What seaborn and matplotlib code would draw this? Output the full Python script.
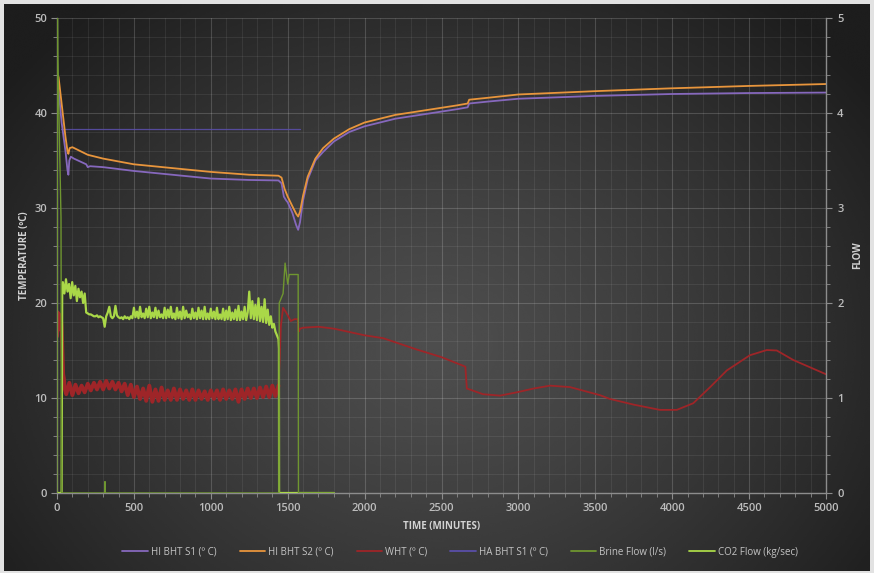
import numpy as np
import matplotlib
matplotlib.use("Agg")
import matplotlib.pyplot as plt
from matplotlib.lines import Line2D
from matplotlib.ticker import MultipleLocator
import seaborn as sns

sns.set_theme(style="dark")
plt.rcParams["font.family"] = ["Open Sans", "DejaVu Sans"]

# ---------------- data ----------------
# HI BHT S1 (ºC)
bht1_t = [0, 10, 30, 55, 68, 74, 80, 90, 110, 150, 190, 200, 215, 300, 500, 750, 1000,
          1250, 1440, 1460, 1475, 1490, 1500, 1530, 1555, 1568, 1580, 1600, 1630, 1680,
          1730, 1800, 1900, 2000, 2200, 2400, 2600, 2670, 2680, 2800, 3000, 3500, 4000,
          4500, 5000]
bht1_v = [43.5, 42.5, 39.0, 36.0, 34.0, 33.5, 35.0, 35.4, 35.2, 34.9, 34.6, 34.3, 34.4,
          34.3, 33.9, 33.5, 33.1, 32.95, 32.9, 32.6, 31.2, 30.8, 30.6, 29.5, 28.2, 27.7,
          28.5, 30.8, 33.0, 35.0, 35.9, 37.0, 38.0, 38.6, 39.4, 39.9, 40.4, 40.6, 41.0,
          41.2, 41.5, 41.8, 42.0, 42.1, 42.15]

# HI BHT S2 (ºC)
bht2_t = [0, 10, 30, 55, 68, 74, 82, 100, 150, 200, 300, 500, 750, 1000, 1250, 1440,
          1460, 1480, 1500, 1530, 1555, 1568, 1580, 1600, 1630, 1680, 1730, 1800, 1900,
          2000, 2200, 2400, 2600, 2670, 2680, 2800, 3000, 3500, 4000, 4500, 5000]
bht2_v = [44.0, 43.8, 41.0, 37.5, 36.0, 35.7, 36.3, 36.4, 36.0, 35.6, 35.2, 34.6, 34.2,
          33.8, 33.5, 33.4, 33.2, 32.0, 31.2, 30.2, 29.4, 29.1, 29.6, 31.3, 33.3, 35.2,
          36.3, 37.3, 38.3, 39.0, 39.8, 40.3, 40.8, 41.0, 41.4, 41.6, 41.95, 42.3, 42.6,
          42.85, 43.05]

# HA BHT S1 (ºC)
habht_t = [25, 1580]
habht_v = [38.3, 38.3]

# WHT (ºC): start-up, noisy injection period, recovery
wht_head_t = [0, 5, 10, 15, 20, 25, 30, 35, 40, 45, 50]
wht_head_v = [16.5, 19.0, 17.2, 18.8, 17.8, 18.5, 17.5, 15.0, 12.5, 12.0, 11.0]
wht_mid_v = [10.4, 11.6, 10.3, 11.4, 10.5, 11.3, 10.6, 11.5, 10.8, 11.6,
             10.9, 11.7, 10.9, 11.8, 11.0, 11.7, 10.9, 11.6, 10.7, 11.5,
             10.3, 11.4, 10.1, 11.2, 9.9, 11.0, 9.7, 11.3, 9.6, 10.9,
             9.7, 11.1, 9.8, 10.8, 9.8, 11.0, 9.8, 10.9, 9.9, 10.8,
             9.8, 10.9, 9.8, 10.8, 9.9, 10.7, 9.8, 10.8, 9.9, 10.8,
             9.8, 10.9, 9.9, 10.8, 9.9, 10.9, 9.6, 10.9, 9.9, 11.0,
             10.0, 11.0, 10.0, 11.1, 10.1, 11.2, 10.1, 11.3, 10.2, 11.3]
wht_tail_t = [1448, 1455, 1470, 1490, 1520, 1545, 1565, 1572, 1580, 1600, 1700, 1800,
              2000, 2120, 2340, 2500, 2655, 2665, 2770, 2880, 2990, 3100, 3205, 3335,
              3530, 3595, 3750, 3920, 4030, 4137, 4250, 4355, 4505, 4615, 4680, 4787,
              5000]
wht_tail_v = [14.0, 17.5, 19.5, 19.0, 18.1, 18.3, 18.3, 17.0, 17.3, 17.4, 17.5, 17.3,
              16.6, 16.3, 15.1, 14.3, 13.3, 11.0, 10.4, 10.25, 10.6, 11.0, 11.3, 11.15,
              10.3, 9.9, 9.3, 8.75, 8.75, 9.45, 11.2, 12.9, 14.5, 15.05, 15.0, 14.0, 12.5]

# Brine Flow (l/s)
brine_t = [0, 3, 5, 26, 30, 32, 310, 312, 314, 1443, 1445, 1470, 1483, 1500, 1510,
           1568, 1570, 1800]
brine_v = [0.0, 5.0, 4.6, 2.9, 0.0, 0.0, 0.0, 0.12, 0.0, 0.0, 2.0, 2.1, 2.42, 2.2,
           2.3, 2.3, 0.0, 0.0]

# CO2 Flow (kg/sec)
co2_head_t = [0, 30, 34]
co2_head_v = [0.0, 0.0, 2.2]
co2_seg1_v = [2.22, 2.10, 2.25, 2.12, 2.20, 2.05, 2.22, 2.08, 2.18, 2.02, 2.15, 2.06,
              2.12, 2.00, 2.10]
co2_seg2_v = [1.90, 1.89, 1.88, 1.88, 1.87, 1.86, 1.86, 1.87, 1.85, 1.86, 1.85, 1.84]
co2_seg3_v = [1.75, 1.86, 1.90, 1.96, 1.86, 1.84, 1.86, 1.97, 1.87, 1.85, 1.84, 1.85,
              1.83, 1.86, 1.84, 1.85, 1.83, 1.86, 1.84]
co2_seg4_v = [1.95, 1.85, 1.91, 1.84, 1.96, 1.85, 1.89, 1.84, 1.94, 1.85,
              1.96, 1.84, 1.90, 1.85, 1.95, 1.84, 1.92, 1.85, 1.88, 1.84,
              1.95, 1.84, 1.93, 1.85, 1.96, 1.84, 1.89, 1.83, 1.95, 1.84,
              1.91, 1.83, 1.96, 1.84, 1.92, 1.85, 1.88, 1.83, 1.94, 1.84,
              1.90, 1.83, 1.95, 1.84, 1.92, 1.83, 1.96, 1.83, 1.89, 1.83,
              1.94, 1.84, 1.91, 1.83, 1.95, 1.83, 1.88, 1.83, 1.94, 1.82,
              1.92, 1.83, 1.96, 1.82, 1.90, 1.83, 1.93, 1.82, 1.97, 1.82,
              1.91, 1.83, 1.96, 1.82, 1.90]
co2_seg5_v = [2.12, 1.84, 2.02, 1.83, 1.98, 1.82, 2.05, 1.81, 1.96, 1.80, 2.04, 1.79,
              1.93, 1.77, 1.86, 1.74, 1.78, 1.70, 1.66, 1.62]
co2_tail_t = [1443, 1444, 1800]
co2_tail_v = [1.52, 0.0, 0.0]

x_ticks = [0, 500, 1000, 1500, 2000, 2500, 3000, 3500, 4000, 4500, 5000]
temp_ticks = [0, 10, 20, 30, 40, 50]
flow_ticks = [0, 1, 2, 3, 4, 5]

legend_labels = ["HI BHT S1 (º C)", "HI BHT S2 (º C)", "WHT (º C)", "HA BHT S1 (º C)",
                 "Brine Flow (l/s)", "CO2 Flow (kg/sec)"]
colors = ["#8668bd", "#e8953c", "#9e2528", "#5a4ea8", "#6f9630", "#aad848"]

# ------------- assemble sampled series -------------
wht_noisy_t = np.concatenate([wht_head_t, np.linspace(60, 1440, len(wht_mid_v))])
wht_noisy_v = np.concatenate([wht_head_v, wht_mid_v])
wht_rec_t = np.concatenate([[1440], wht_tail_t])
wht_rec_v = np.concatenate([[wht_mid_v[-1]], wht_tail_v])

co2_t = np.concatenate([co2_head_t,
                        np.linspace(38, 180, len(co2_seg1_v)),
                        np.linspace(190, 300, len(co2_seg2_v)),
                        np.linspace(310, 490, len(co2_seg3_v)),
                        np.linspace(500, 1240, len(co2_seg4_v)),
                        np.linspace(1250, 1440, len(co2_seg5_v)),
                        co2_tail_t])
co2_v = np.concatenate([co2_head_v, co2_seg1_v, co2_seg2_v, co2_seg3_v, co2_seg4_v,
                        co2_seg5_v, co2_tail_v])

# ---------------- figure ----------------
W, H = 874, 573
fig = plt.figure(figsize=(W / 100, H / 100), dpi=100, facecolor="#e2e2e2")

# radial dark-gray backdrop
bg = fig.add_axes([4 / W, 2 / H, 866 / W, 567 / H], zorder=-10)
gy, gx = np.mgrid[0:1:300j, 0:1:460j]
dist = np.sqrt(((gx - 0.5) / 0.62) ** 2 + ((gy - 0.6) / 0.78) ** 2)
dist = np.clip(dist, 0, 1)
shade = 0.305 - 0.19 * dist ** 1.25
bg.imshow(shade, cmap="gray", vmin=0, vmax=1, aspect="auto", interpolation="bicubic")
bg.set_axis_off()

ax = fig.add_axes([57 / W, 1 - 493 / H, (826 - 57) / W, (493 - 18) / H])
ax.set_facecolor("none")
ax2 = ax.twinx()
ax2.set_facecolor("none")

# temperature series
sns.lineplot(x=habht_t, y=habht_v, ax=ax, color=colors[3], linewidth=0.9,
             estimator=None, sort=False, alpha=0.9)
sns.lineplot(x=wht_noisy_t, y=wht_noisy_v, ax=ax, color=colors[2], linewidth=2.8,
             estimator=None, sort=False)
sns.lineplot(x=wht_rec_t, y=wht_rec_v, ax=ax, color=colors[2], linewidth=1.3,
             estimator=None, sort=False)
sns.lineplot(x=bht1_t, y=bht1_v, ax=ax, color=colors[0], linewidth=1.3,
             estimator=None, sort=False)
sns.lineplot(x=bht2_t, y=bht2_v, ax=ax, color=colors[1], linewidth=1.3,
             estimator=None, sort=False)

# flow series
sns.lineplot(x=co2_t, y=co2_v, ax=ax2, color=colors[5], linewidth=1.6,
             estimator=None, sort=False)
sns.lineplot(x=brine_t, y=brine_v, ax=ax2, color=colors[4], linewidth=1.0,
             estimator=None, sort=False)

# axes, ticks and grid
ax.set_xlim(0, 5000)
ax.set_ylim(0, 50)
ax2.set_ylim(0, 5)
ax.set_xticks(x_ticks)
ax.set_yticks(temp_ticks)
ax2.set_yticks(flow_ticks)
ax.xaxis.set_minor_locator(MultipleLocator(100))
ax.yaxis.set_minor_locator(MultipleLocator(2))
ax2.yaxis.set_minor_locator(MultipleLocator(0.2))

ax.grid(True, which="major", color="white", alpha=0.17, linewidth=0.8)
ax.grid(True, which="minor", color="white", alpha=0.07, linewidth=0.7)
ax2.grid(False)

spine_c = "#8c8c8c"
for a in (ax, ax2):
    for s in a.spines.values():
        s.set_visible(False)
ax.spines["left"].set_visible(True)
ax.spines["bottom"].set_visible(True)
ax2.spines["right"].set_visible(True)
for s in (ax.spines["left"], ax.spines["bottom"], ax2.spines["right"]):
    s.set_color(spine_c)
    s.set_linewidth(1.0)

tick_c = "#bdbdbd"
ax.tick_params(axis="both", which="major", direction="out", length=4, width=0.8,
               color=spine_c, labelcolor=tick_c, labelsize=8, pad=3)
ax.tick_params(axis="both", which="minor", direction="out", length=3, width=0.6,
               color=spine_c)
ax.tick_params(axis="y", which="both", left=True, right=False)
ax.tick_params(axis="x", which="both", bottom=True, top=False)
ax2.tick_params(axis="y", which="major", direction="out", length=4, width=0.8,
                color=spine_c, labelcolor=tick_c, labelsize=8, pad=4, right=True)
ax2.tick_params(axis="y", which="minor", direction="out", length=3, width=0.6,
                color=spine_c, right=True)
for lab in ax.get_xticklabels() + ax.get_yticklabels() + ax2.get_yticklabels():
    lab.set_fontweight("semibold")

label_c = "#d2d2d2"
ax.set_xlabel("TIME (MINUTES)", color=label_c, fontsize=7, fontweight="bold", labelpad=5)
ax.set_ylabel("TEMPERATURE (ºC)", color=label_c, fontsize=7, fontweight="bold")
ax2.set_ylabel("FLOW", color=label_c, fontsize=7, fontweight="bold")
ax.yaxis.set_label_coords((30 - 57) / (826 - 57), 0.5)
ax2.yaxis.set_label_coords((852 - 57) / (826 - 57), 0.5)

# legend along the bottom
handles = [Line2D([0], [0], color=c, linewidth=1.3) for c in colors]
fig.legend(handles, legend_labels, loc="center", bbox_to_anchor=(460 / W, 1 - 552 / H),
           ncol=6, frameon=False, fontsize=7, labelcolor="#c4c4c4",
           handlelength=2.6, handletextpad=0.3, columnspacing=2.4)

fig.savefig("out.png", dpi=100, facecolor=fig.get_facecolor())
